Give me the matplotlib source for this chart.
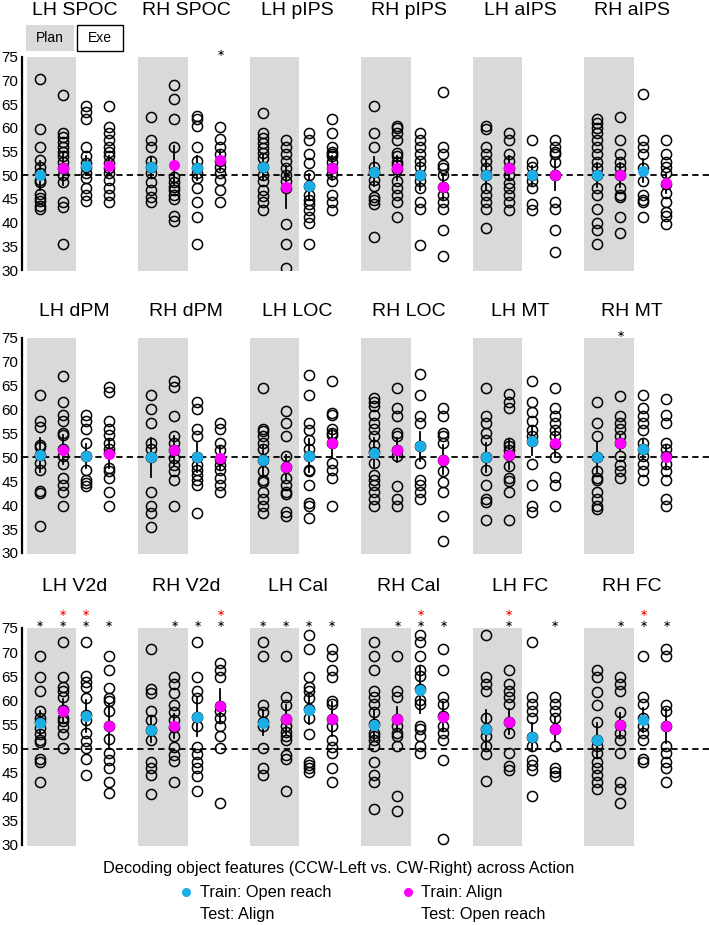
import numpy as np
import matplotlib.pyplot as plt
from matplotlib.patches import Rectangle

plt.rcParams['font.family'] = ['Liberation Sans', 'DejaVu Sans']

CYAN = '#1eaee6'
MAGENTA = '#ff00ff'
GRAY = '#d9d9d9'

# ---- row 1 ----
regions_1 = ["LH SPOC", "RH SPOC", "LH pIPS", "RH pIPS", "LH aIPS", "RH aIPS"]
lh_spoc = [[70.3, 59.8, 56, 53.2, 51.8, 50.5, 49, 48.5, 46, 45.3, 44.5, 43.5, 42.8],
           [67, 59, 58, 57, 56, 55, 54, 52.8, 51.5, 50, 48.5, 44.3, 43.3, 35.4],
           [64.6, 63.4, 61.9, 56, 54, 52.5, 51.7, 50.5, 49.4, 47.3, 45.8, 44.5],
           [64.6, 60.3, 59, 57.5, 56, 55, 54, 52.5, 51.5, 50.4, 49, 47.3, 45.8, 44.4]]
rh_spoc = [[62.3, 57.5, 56, 53.1, 51.8, 50.4, 48.5, 47, 45.5, 44.3],
           [69.1, 66.1, 61.8, 56, 49.7, 48.5, 47.6, 47, 45.8, 45, 41.4, 40.4],
           [62.5, 62, 60.4, 56, 53.1, 51.5, 50.4, 49.4, 47.3, 44.4, 41.3, 35.4],
           [60.3, 57.6, 56, 54.5, 53.1, 51.8, 50.4, 49, 47, 44.3]]
lh_pips = [[63.2, 58.9, 57.8, 56.8, 55.7, 54.7, 53.6, 51.8, 50, 48.7, 47, 45.6, 44.4, 42.7],
           [57.5, 56, 54.5, 53.1, 51.5, 50.1, 48.7, 47.3, 39.7, 35.4, 30.5],
           [58.9, 57.5, 54.5, 52.5, 50, 47.8, 45.8, 44.8, 44, 42.7, 41.3, 39.9, 35.4],
           [61.8, 58.9, 56, 55, 54.5, 54, 52.9, 51.5, 50.2, 48.7, 45.8, 44.4, 42.7]]
rh_pips = [[64.6, 58.9, 56, 51.8, 50.8, 49, 47.8, 45.5, 44.8, 44, 36.9],
           [60.4, 60, 58.9, 57.5, 54.7, 54, 52.9, 52.2, 51.3, 48.7, 47.3, 45.8, 44.3, 41.3],
           [58.9, 57.5, 56, 54.5, 53.1, 51.8, 50, 48.7, 47.3, 44.4, 42.8, 35.3],
           [67.7, 56, 54.5, 52.2, 51.5, 50, 47.5, 45.8, 44.4, 42.8, 38.5, 33]]
lh_aips = [[60.4, 59.7, 56, 54.5, 53.1, 51.5, 50, 47.3, 45.8, 44.3, 42.8, 38.9],
           [58.9, 57.5, 54.5, 53.1, 51.5, 50, 48.4, 47.3, 45.8, 44.4, 42.7],
           [57.5, 52.9, 51.8, 50, 48.7, 47.3, 44, 42.7],
           [57.5, 56, 55, 54.5, 52.9, 50, 44.4, 42.8, 38.5, 33.9]]
rh_aips = [[62, 61, 59.9, 58.9, 57.5, 56, 54.5, 52.9, 51.5, 50, 47.3, 45.8, 42.8, 39.9, 38.5, 35.4],
           [62.4, 57.5, 54.5, 52.9, 51.5, 50, 47.3, 45.8, 45.5, 41.3, 37.9],
           [67.2, 57.5, 56, 54.5, 51.5, 48.7, 45.8, 44.8, 44.3, 41.3],
           [57.5, 54.5, 52.9, 51.8, 50.4, 48.1, 46.2, 44.3, 42.3, 41.4, 39.7]]
means_1 = [[50, 51.5, 52, 52], [51.7, 52.2, 51.5, 53.2], [51.8, 47.5, 47.8, 51.5],
           [50.8, 51.5, 50, 47.5], [50, 51.5, 50, 50], [50, 50, 51, 48.3]]
errs_1 = [[3, 3.5, 2, 2], [2, 4, 2.5, 2], [2.5, 4.5, 2.5, 2.5],
          [3, 2.5, 3, 2.5], [3, 2.5, 2, 3], [2.5, 2.5, 2.5, 2]]
stars_1 = [[0, 0, 0, 0], [0, 0, 0, 1], [0, 0, 0, 0], [0, 0, 0, 0], [0, 0, 0, 0], [0, 0, 0, 0]]
red_1 = [[0, 0, 0, 0]] * 6

# ---- row 2 ----
regions_2 = ["LH dPM", "RH dPM", "LH LOC", "RH LOC", "LH MT", "RH MT"]
lh_dpm = [[63.1, 57.6, 56.4, 52.7, 52.2, 50.6, 48.8, 47.3, 42.9, 42.6, 35.6],
          [67.1, 61.7, 58.9, 57.6, 55.1, 54.6, 51.7, 50.3, 48.7, 45.7, 44.3, 42.7, 39.9],
          [58.9, 57.6, 56, 53, 50.4, 47.3, 45.3, 44.6, 44.1],
          [64.7, 63.6, 57.6, 56, 54.6, 53, 51.7, 51, 47.8, 47.1, 45.7, 42.7, 39.9]]
rh_dpm = [[63.1, 60.1, 57.2, 53, 51.7, 50, 42.7, 39.9, 38.4, 35.4],
          [66, 64.7, 58.7, 54.4, 53, 51.5, 49.9, 48.5, 47.1, 45.2, 39.9],
          [61.7, 60.1, 56, 54.4, 50, 48.5, 47.3, 46.4, 45.3, 44.3, 38.4],
          [57.3, 56, 53, 51.5, 49.7, 48.5, 47.4, 45.7, 44.3, 42.7]]
lh_loc = [[64.5, 56, 55.5, 54.4, 53, 51.7, 49.4, 47.1, 45.3, 44.8, 42.7, 41.3, 39.9, 38.4],
          [59.8, 57.3, 54.4, 50.3, 48, 45.7, 44.3, 42.7, 42.3, 38.5, 37.8],
          [67.3, 63.1, 57.3, 55.8, 53.7, 51.7, 50.4, 47.4, 47.1, 44.3, 40.5, 39.9, 37.3],
          [66, 59.3, 58.9, 56, 55.1, 54.6, 53, 48.8, 47.4, 45.7, 39.9]]
rh_loc = [[62.4, 61.7, 60.7, 58.9, 57.2, 56, 54.4, 52.7, 51.1, 48.8, 46.4, 45.3, 44.3, 42.7, 41.3, 39.9],
          [64.5, 60.3, 58.7, 55.1, 54.4, 51.5, 50.3, 44.1, 41.3, 39.9],
          [67.5, 63.1, 58.7, 57.3, 52.3, 48.8, 45.3, 44.3, 42.7, 41.3],
          [60.3, 58.7, 55.1, 54.4, 53, 49.5, 47.1, 44.8, 42.7, 37.8, 32.6]]
lh_mt = [[64.5, 58.7, 57.3, 55.1, 53.7, 50, 47.4, 44.3, 41.3, 40.6, 37],
         [63.3, 61.7, 60.3, 53, 52.3, 51.5, 50.6, 48.3, 45.7, 45, 42.7, 37],
         [66.1, 61.7, 59.6, 57.6, 55.8, 54.4, 53.4, 48.7, 44.3, 39.9, 38.5],
         [64.5, 60.3, 58.7, 57.3, 55.8, 54.4, 52.9, 50.1, 46, 44.3, 39.9]]
rh_mt = [[61.7, 57.3, 54.4, 50.1, 47.1, 45.7, 45.3, 42.7, 41.2, 39.9, 39.1],
         [62.8, 58.7, 57.3, 56, 54.4, 53, 50.3, 48.5, 47.1, 45.7],
         [63.1, 60.3, 58.7, 57.3, 55.8, 53, 51.8, 50.3, 48.7, 47.1, 45.3],
         [62.2, 58.9, 57.3, 53, 51.7, 50.3, 48.7, 47.1, 45.3, 41.3, 39.9]]
means_2 = [[50.5, 51.6, 50.3, 50.8], [50, 51.5, 50, 49.8], [49.4, 48, 50.4, 53],
           [51, 51.5, 52.3, 49.5], [50, 50.6, 53.5, 53], [50, 53, 51.7, 50]]
errs_2 = [[3.5, 3, 2.5, 3], [4, 3, 3, 2.5], [3, 2.5, 3.5, 3],
          [3, 2.5, 3, 3], [3, 3, 3, 3], [3, 1.5, 2, 2.5]]
stars_2 = [[0, 0, 0, 0], [0, 0, 0, 0], [0, 0, 0, 0], [0, 0, 0, 0], [0, 0, 0, 0], [0, 1, 0, 0]]
red_2 = [[0, 0, 0, 0]] * 6

# ---- row 3 ----
regions_3 = ["LH V2d", "RH V2d", "LH Cal", "RH Cal", "LH FC", "RH FC"]
lh_v2d = [[69.2, 64.8, 62, 57.8, 56.4, 55.5, 54.3, 53.1, 51.8, 51.3, 47.8, 47.3, 43],
          [72.1, 64.8, 62.7, 62, 60.6, 58, 56.4, 55.7, 54.5, 53.1, 50.2],
          [72.1, 65, 63.7, 62.7, 60.4, 56.9, 55.9, 53.2, 51.6, 50.2, 47.8, 44.5],
          [69.2, 66.3, 62.5, 60.4, 59.9, 57.8, 54.7, 51.9, 49, 47.6, 46, 43, 40.8]]
rh_v2d = [[70.6, 62.3, 61.6, 57.8, 56, 53.9, 51.8, 47.3, 45.9, 44.5, 40.6],
          [64.8, 63.4, 61.6, 59, 57.5, 56, 54.5, 52.7, 50.3, 48.6, 47.5, 43],
          [72.1, 64.8, 62, 60.4, 56.6, 54.7, 50.3, 48.9, 47.3, 45.9, 44.4, 41.1],
          [67.8, 66.3, 64.8, 58.9, 57.8, 56.4, 54.7, 52.6, 50.2, 38.8]]
lh_cal = [[72.1, 69.2, 59, 57.5, 55.5, 54.7, 50.2, 45.9, 44.5],
          [69.2, 60.6, 59, 56.2, 54.7, 53.4, 52.6, 51.8, 48.6, 47.8, 41.1],
          [73.5, 70.6, 64.8, 62.7, 62, 60.4, 58.2, 56.4, 53.1, 47.3, 46.6, 45.9, 45.2],
          [70.6, 69.2, 66.3, 64.8, 59.9, 59.2, 56.2, 54.7, 51.8, 50.3, 49, 45.9, 43]]
rh_cal = [[72.1, 69.2, 66.3, 62, 60.6, 59.2, 57.5, 55, 53.3, 52.6, 51.8, 50.5, 47.3, 44.5, 43.1, 37.5],
          [69.2, 62, 60.6, 56.2, 54.7, 53.3, 52.6, 50.5, 40.2, 37.1],
          [73.5, 72.1, 69.2, 66.3, 65, 62.3, 60.1, 59.2, 54.7, 54, 52.6, 50.5, 49.1],
          [70.6, 66.3, 60.6, 59.2, 56.8, 54.7, 53.3, 51.8, 47.6, 31.2]]
lh_fc = [[73.6, 64.8, 63.4, 62, 56.4, 54, 52.6, 50.5, 48.9, 43.3],
         [66.3, 63.4, 62, 60.6, 59.2, 55.5, 53.3, 49, 46.4, 45.6],
         [72.1, 60.6, 59.2, 57.8, 56.4, 52.3, 50.5, 47.7, 46.6, 45.6, 40.2],
         [60.6, 59.2, 57.8, 56.4, 54, 50.5, 45.9, 45.2, 44.4]]
rh_fc = [[66.3, 64.8, 61.8, 59, 55.5, 51.8, 50.5, 49, 47.3, 45.9, 44.5, 43, 41.6],
         [64.8, 63.4, 62, 57.5, 54.9, 53.3, 51.8, 49, 43, 41.6, 38.8],
         [69.2, 60.6, 59.2, 56.4, 54.7, 53.3, 51.8, 47.8, 47.3],
         [70.6, 69.2, 59, 57.8, 54.7, 50.5, 49, 47.3, 45.9, 43]]
means_3 = [[55.3, 57.8, 56.8, 54.7], [53.8, 54.6, 56.5, 58.8], [55.4, 56.1, 58, 56.2],
           [54.8, 56.2, 62.2, 56.6], [54, 55.6, 52.4, 54], [51.8, 54.8, 56, 54.6]]
errs_3 = [[2.5, 2.5, 3.3, 4.5], [2.5, 2.5, 4, 3.5], [2.5, 3, 3, 3.5],
          [3, 2.5, 4.8, 3], [4, 2.5, 3, 2.5], [3.5, 2.5, 2.5, 3.5]]
stars_3 = [[1, 1, 1, 1], [0, 1, 1, 1], [1, 1, 1, 1], [0, 1, 1, 1], [0, 1, 0, 1], [0, 1, 1, 1]]
red_3 = [[0, 1, 1, 0], [0, 0, 0, 1], [0, 0, 0, 0], [0, 0, 1, 0], [0, 1, 0, 0], [0, 0, 1, 0]]

rows = [
    (regions_1, [lh_spoc, rh_spoc, lh_pips, rh_pips, lh_aips, rh_aips], means_1, errs_1, stars_1, red_1, 84.9),
    (regions_2, [lh_dpm, rh_dpm, lh_loc, rh_loc, lh_mt, rh_mt], means_2, errs_2, stars_2, red_2, 80.6),
    (regions_3, [lh_v2d, rh_v2d, lh_cal, rh_cal, lh_fc, rh_fc], means_3, errs_3, stars_3, red_3, 83.7),
]
row_boxes = [(0.9384, 0.7081), (0.6346, 0.4022), (0.3211, 0.0865)]

PANEL_STEP = 4.85
mean_cols = [CYAN, MAGENTA, CYAN, MAGENTA]

fig = plt.figure(figsize=(7.09, 9.25), dpi=100)

for r, (names, panels, means, errs, stars, reds, title_y) in enumerate(rows):
    top, bot = row_boxes[r]
    ax = fig.add_axes([0.031, bot, 0.969, top - bot])
    ax.set_xlim(-0.78, 29.1)
    ax.set_ylim(30, 75)
    ax.patch.set_alpha(0)
    for s in ['top', 'right', 'bottom']:
        ax.spines[s].set_visible(False)
    ax.spines['left'].set_linewidth(1.6)
    ax.set_xticks([])
    ax.set_yticks(np.arange(30, 76, 5))
    ax.tick_params(axis='y', length=0, pad=2.5, labelsize=11)

    ax.axhline(50, color='black', ls=(0, (3.5, 2.3)), lw=1.3, zorder=3)

    for p, (name, cols) in enumerate(zip(names, panels)):
        x0 = p * PANEL_STEP
        ax.add_patch(Rectangle((x0 - 0.57, 29.8), 2.14, 45.3, facecolor=GRAY,
                               edgecolor='none', zorder=0, clip_on=False))
        ax.text(x0 + 1.5, title_y, name, ha='center', va='center', fontsize=14,
                clip_on=False)
        for c in range(4):
            x = x0 + c
            vals = cols[c]
            ax.plot([x] * len(vals), vals, 'o', mfc='none', mec='black',
                    ms=7.3, mew=1.1, zorder=4)
            m, e = means[p][c], errs[p][c]
            ax.plot([x, x], [m - e, m + e], color='black', lw=1.3, zorder=5)
            ax.plot(x, m, 'o', color=mean_cols[c], ms=8, mec='none', zorder=6)
            # significance marks
            if stars[p][c]:
                ax.text(x, 76.0, r'$\ast$', ha='center', va='center', fontsize=7,
                        color='black', clip_on=False)
            if reds[p][c]:
                ax.text(x, 78.2, r'$\ast$', ha='center', va='center', fontsize=7,
                        color='red', clip_on=False)

    if r == 0:
        ax.add_patch(Rectangle((-0.61, 76.3), 2.09, 5.5, facecolor=GRAY,
                               edgecolor='none', clip_on=False))
        ax.add_patch(Rectangle((1.61, 76.3), 2.0, 5.5, facecolor='white',
                               edgecolor='black', lw=1.0, clip_on=False))
        ax.text(0.43, 79.05, 'Plan', ha='center', va='center', fontsize=10)
        ax.text(2.61, 79.05, 'Exe', ha='center', va='center', fontsize=10)

fig.text(339 / 709, 1 - 868 / 925, 'Decoding object features (CCW-Left vs. CW-Right) across Action',
         ha='center', va='center', fontsize=11.8)
fig.lines.append(plt.Line2D([186 / 709], [1 - 892 / 925], marker='o', color=CYAN,
                            ms=5.5, transform=fig.transFigure, figure=fig))
fig.lines.append(plt.Line2D([408 / 709], [1 - 892 / 925], marker='o', color=MAGENTA,
                            ms=5.5, transform=fig.transFigure, figure=fig))
fig.text(200 / 709, 1 - 892 / 925, 'Train: Open reach', ha='left', va='center', fontsize=11.8)
fig.text(200 / 709, 1 - 914 / 925, 'Test: Align', ha='left', va='center', fontsize=11.8)
fig.text(421 / 709, 1 - 892 / 925, 'Train: Align', ha='left', va='center', fontsize=11.8)
fig.text(421 / 709, 1 - 914 / 925, 'Test: Open reach', ha='left', va='center', fontsize=11.8)

fig.savefig('out.png', dpi=100)
